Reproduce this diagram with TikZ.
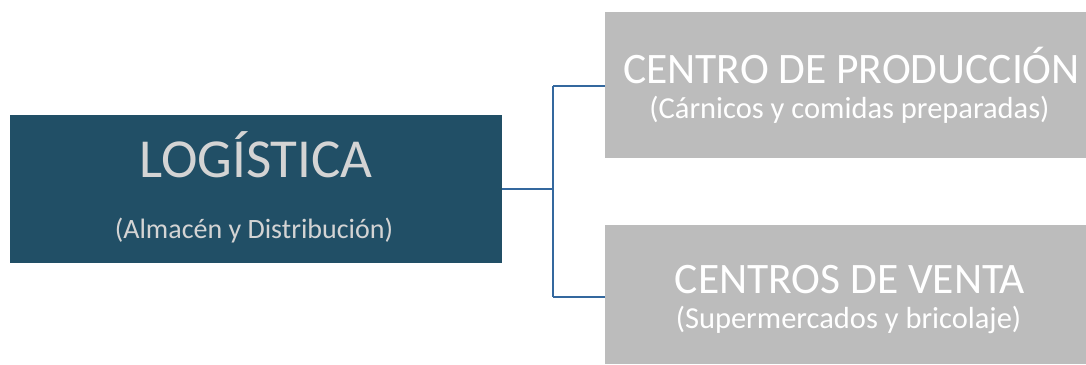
\documentclass[tikz,border=0pt]{standalone}
\usepackage{fontspec}
\setmainfont{Carlito}
\definecolor{teal}{RGB}{33,79,102}
\definecolor{greybox}{RGB}{188,188,188}
\definecolor{tealtext}{RGB}{212,212,212}
\definecolor{linkblue}{RGB}{52,104,158}
\begin{document}
\begin{tikzpicture}[x=1pt,y=-1pt,
  link/.style={draw=linkblue,line width=2pt},
  txt/.style={inner sep=0pt,anchor=base}]
\useasboundingbox (0,0) rectangle (1086,364);
\fill[white] (0,0) rectangle (1086,364);
% boxes
\node[fill=teal,minimum width=492pt,minimum height=148pt,inner sep=0pt] (L) at (256,189) {};
\node[fill=greybox,minimum width=481pt,minimum height=146pt,inner sep=0pt] (P) at (845.5,85) {};
\node[fill=greybox,minimum width=481pt,minimum height=139pt,inner sep=0pt] (V) at (845.5,294.5) {};
% texts
\node[txt,text=tealtext,font=\fontsize{55}{60}\selectfont] (t1) at (256,177) {LOGÍSTICA};
\node[txt,text=tealtext,font=\fontsize{28}{32}\selectfont] (t2) at (254,238) {(Almacén y Distribución)};
\node[txt,text=white,font=\fontsize{43.5}{48}\selectfont] (t3) at (851.5,83) {CENTRO DE PRODUCCIÓN};
\node[txt,text=white,font=\fontsize{30.5}{34}\selectfont] (t4) at (849.5,118) {(Cárnicos y comidas preparadas)};
\node[txt,text=white,font=\fontsize{43.5}{48}\selectfont] (t5) at (850,293) {CENTROS DE VENTA};
\node[txt,text=white,font=\fontsize{30.5}{34}\selectfont] (t6) at (848.5,328) {(Supermercados y bricolaje)};
% connectors
\coordinate (j) at (553,189);
\coordinate (jt) at (553,86);
\coordinate (jb) at (553,297);
\draw[link] (L.east |- j) -- (j);
\draw[link] (jt) -- (jb);
\draw[link] (jt) -- (P.west |- jt);
\draw[link] (jb) -- (V.west |- jb);
\end{tikzpicture}
\end{document}
